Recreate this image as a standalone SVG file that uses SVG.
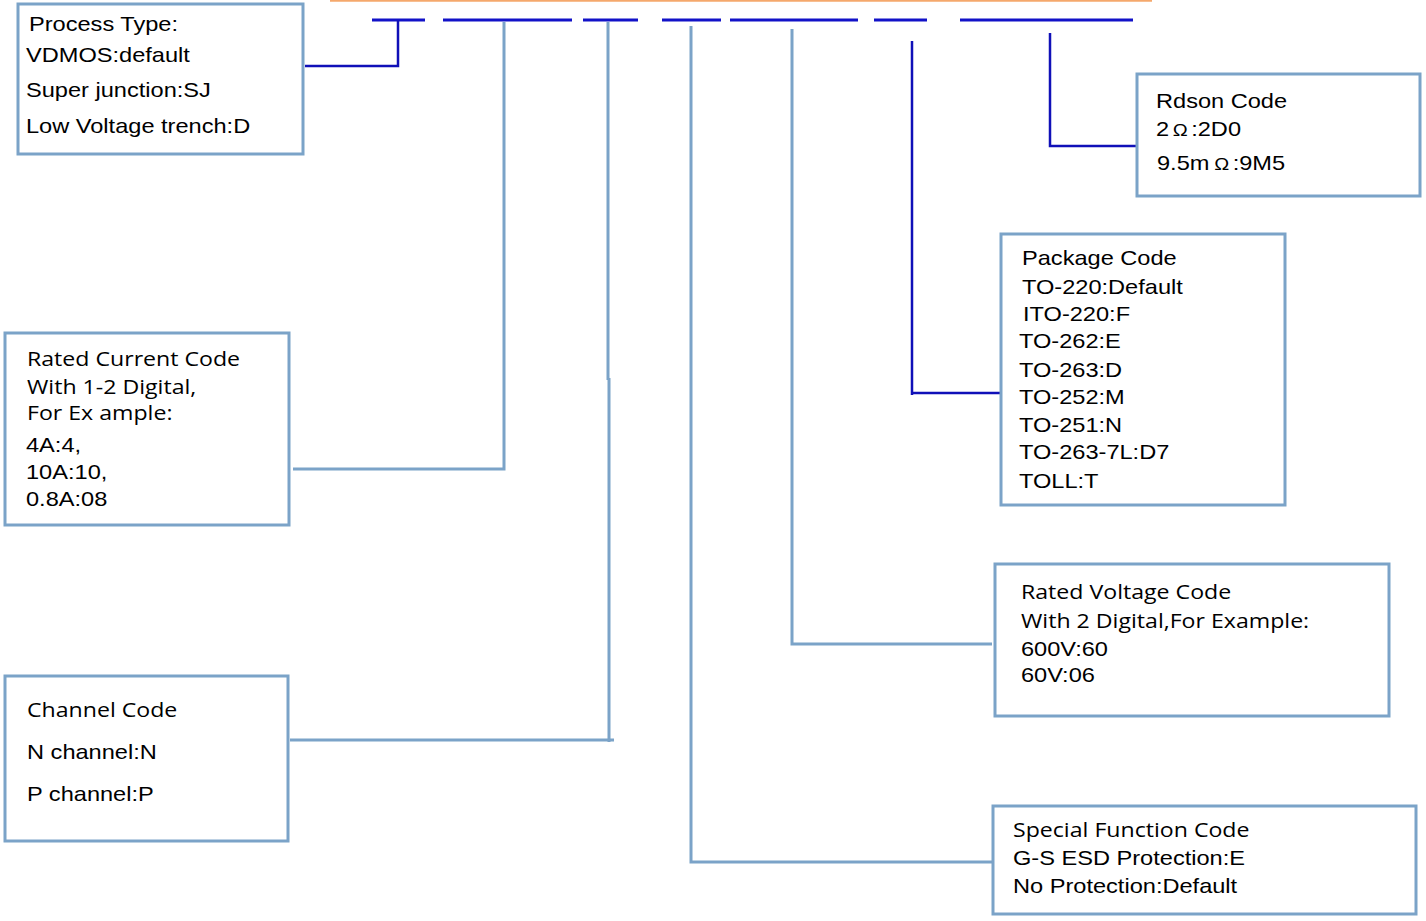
<svg xmlns="http://www.w3.org/2000/svg" width="1426" height="921" viewBox="0 0 1426 921">
<style>
.box{fill:#fff;stroke:#7BA3C8;stroke-width:3}
.lt{fill:none;stroke:#7BA3C8;stroke-width:3}
.dk{fill:none;stroke:#1010B8;stroke-width:2.5}
.dash{fill:none;stroke:#1212C8;stroke-width:3.2}
.a{font-family:"Liberation Sans",Arial,sans-serif;font-size:20px;fill:#000}
.s{font-family:"Open Sans","Noto Sans",sans-serif;font-size:19.6px;fill:#000}
.om{font-size:17px}
</style>
<rect width="1426" height="921" fill="#fff"/>
<line x1="330" y1="0.8" x2="1152" y2="0.8" stroke="#F5A86C" stroke-width="2"/>
<g id="code-dashes">
<line class="dash" x1="372" y1="20" x2="425" y2="20"/>
<line class="dash" x1="443" y1="20" x2="572" y2="20"/>
<line class="dash" x1="583" y1="20" x2="638" y2="20"/>
<line class="dash" x1="662" y1="20" x2="721" y2="20"/>
<line class="dash" x1="730" y1="20" x2="858" y2="20"/>
<line class="dash" x1="874" y1="20" x2="927" y2="20"/>
<line class="dash" x1="960" y1="20" x2="1133" y2="20"/>
</g>
<g id="connectors">
<path class="dk" d="M398,20 V66 H305"/>
<path class="lt" d="M504,22 V469 H293"/>
<path class="lt" d="M608,22 V380"/>
<path class="lt" d="M609,378 V742"/>
<path class="lt" d="M290,740 H614"/>
<path class="lt" d="M691,26 V862 H992"/>
<path class="lt" d="M792,29 V644 H992"/>
<path class="dk" d="M912,41 V395"/>
<path class="dk" d="M911,393 H1002"/>
<path class="dk" d="M1050,33 V146 H1137"/>
</g>
<g id="process-type">
<rect class="box" x="18" y="4" width="285" height="150"/>
<text class="a" transform="translate(29,31) scale(1.18,1)">Process Type:</text>
<text class="a" transform="translate(26,62) scale(1.18,1)">VDMOS:default</text>
<text class="a" transform="translate(26,97) scale(1.18,1)">Super junction:SJ</text>
<text class="a" transform="translate(26,133) scale(1.18,1)">Low Voltage trench:D</text>
</g>
<g id="rated-current">
<rect class="box" x="5" y="333" width="284" height="192"/>
<text class="s" transform="translate(27,366) scale(1.18,1)">Rated  Current Code</text>
<text class="s" transform="translate(27,394) scale(1.18,1)">With 1-2 Digital,</text>
<text class="s" transform="translate(27,420) scale(1.18,1)">For Ex ample:</text>
<text class="a" transform="translate(26,452) scale(1.18,1)">4A:4,</text>
<text class="a" transform="translate(26,479) scale(1.18,1)">10A:10,</text>
<text class="a" transform="translate(26,506) scale(1.18,1)">0.8A:08</text>
</g>
<g id="channel">
<rect class="box" x="5" y="676" width="283" height="165"/>
<text class="s" transform="translate(27,717) scale(1.18,1)">Channel  Code</text>
<text class="a" transform="translate(27,759) scale(1.18,1)">N channel:N</text>
<text class="a" transform="translate(27,801) scale(1.18,1)">P channel:P</text>
</g>
<g id="rdson">
<rect class="box" x="1137" y="74" width="283" height="122"/>
<text class="a" transform="translate(1156,108) scale(1.18,1)">Rdson Code</text>
<text class="a" transform="translate(1156,136) scale(1.18,1)">2<tspan class="om" dx="3">Ω</tspan><tspan dx="3">:2D0</tspan></text>
<text class="a" transform="translate(1157,170) scale(1.18,1)">9.5m<tspan class="om" dx="4">Ω</tspan><tspan dx="3">:9M5</tspan></text>
</g>
<g id="package">
<rect class="box" x="1001" y="234" width="284" height="271"/>
<text class="a" transform="translate(1022,265) scale(1.18,1)">Package Code</text>
<text class="a" transform="translate(1022,294) scale(1.18,1)">TO-220:Default</text>
<text class="a" transform="translate(1023,321) scale(1.18,1)">ITO-220:F</text>
<text class="a" transform="translate(1019,348) scale(1.18,1)">TO-262:E</text>
<text class="a" transform="translate(1019,377) scale(1.18,1)">TO-263:D</text>
<text class="a" transform="translate(1019,404) scale(1.18,1)">TO-252:M</text>
<text class="a" transform="translate(1019,432) scale(1.18,1)">TO-251:N</text>
<text class="a" transform="translate(1019,459) scale(1.18,1)">TO-263-7L:D7</text>
<text class="a" transform="translate(1019,488) scale(1.18,1)">TOLL:T</text>
</g>
<g id="rated-voltage">
<rect class="box" x="995" y="564" width="394" height="152"/>
<text class="s" transform="translate(1021,599) scale(1.18,1)">Rated  Voltage Code</text>
<text class="s" transform="translate(1021,628) scale(1.18,1)">With 2 Digital,For Example:</text>
<text class="a" transform="translate(1021,656) scale(1.18,1)">600V:60</text>
<text class="a" transform="translate(1021,682) scale(1.18,1)">60V:06</text>
</g>
<g id="special-function">
<rect class="box" x="993" y="806" width="423" height="108"/>
<text class="s" transform="translate(1013,837) scale(1.18,1)">Special  Function Code</text>
<text class="a" transform="translate(1013,865) scale(1.18,1)">G-S ESD Protection:E</text>
<text class="a" transform="translate(1013,893) scale(1.18,1)">No Protection:Default</text>
</g>
</svg>
